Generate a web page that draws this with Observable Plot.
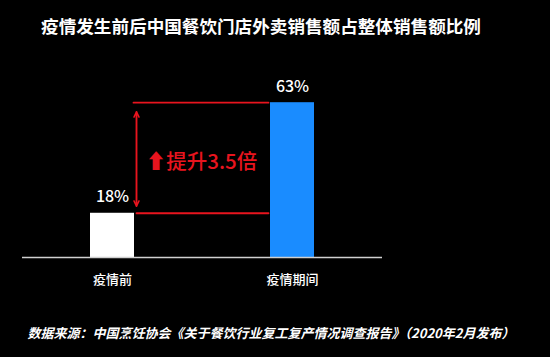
<!DOCTYPE html>
<html>
<head>
<meta charset="utf-8">
<script src="https://cdn.jsdelivr.net/npm/d3@7"></script>
<script src="https://cdn.jsdelivr.net/npm/@observablehq/plot@0.6"></script>
<style>
  html, body { margin: 0; padding: 0; background: #000; }
  body { width: 550px; height: 357px; overflow: hidden; font-family: "Noto Sans CJK SC", "Noto Sans", sans-serif; color: #fff; }
  #title { width: 522px; height: 45px; line-height: 52px; text-align: center; font-size: 17.6px; font-weight: bold; white-space: nowrap; }
  #chart { height: 255px; }
  #caption { width: 542px; height: 57px; line-height: 66px; text-align: center; font-size: 13px; font-weight: bold; font-style: italic; white-space: nowrap; }
</style>
</head>
<body>
<div id="title"></div>
<div id="chart"></div>
<div id="caption"></div>
<script>
const titleText = "疫情发生前后中国餐饮门店外卖销售额占整体销售额比例";
const captionText = "数据来源：中国烹饪协会《关于餐饮行业复工复产情况调查报告》（2020年2月发布）";
const categories = ["疫情前", "疫情期间"];
const shares = [18, 63];
const valueLabels = ["18%", "63%"];
const barColors = ["#ffffff", "#1a8cff"];
const annotationText = "⬆提升3.5倍";

document.getElementById("title").textContent = titleText;
document.getElementById("caption").textContent = captionText;

const data = categories.map((c, i) => ({cat: c, value: shares[i], color: barColors[i], label: valueLabels[i]}));
const red = "#e8141e";
const before = categories[0], after = categories[1];
const lowV = shares[0], highV = shares[1];

const chart = Plot.plot({
  width: 550,
  height: 255,
  marginLeft: 22,
  marginRight: 168,
  marginTop: 40,
  marginBottom: 43,
  style: {background: "#000", color: "#fff", fontFamily: "\"Noto Sans CJK SC\", sans-serif", overflow: "visible"},
  x: {domain: categories, paddingInner: 0.756, paddingOuter: 0.378, label: null},
  y: {domain: [0, 70], axis: null},
  color: {type: "identity"},
  marks: [
    Plot.barY(data, {x: "cat", y: "value", fill: "color"}),
    Plot.ruleY([0], {stroke: "#d0d0d0", strokeWidth: 1.5}),
    Plot.text(data, {x: "cat", y: "value", text: "label", dy: -16, fill: "#fff", fontSize: 16, fontWeight: 500, lineAnchor: "middle"}),
    Plot.arrow([0], {x1: () => before, x2: () => after, y1: () => highV, y2: () => highV, stroke: red, strokeWidth: 1.8, headLength: 0, insetStart: 21, insetEnd: 24}),
    Plot.arrow([0], {x1: () => before, x2: () => after, y1: () => lowV, y2: () => lowV, stroke: red, strokeWidth: 1.8, headLength: 0, insetStart: 24, insetEnd: 24}),
    Plot.arrow([0], {x1: () => before, x2: () => before, y1: () => lowV, y2: () => highV, dx: 24, stroke: red, strokeWidth: 1.5, headLength: 6, headAngle: 50, insetStart: 7, insetEnd: 9}),
    Plot.arrow([0], {x1: () => before, x2: () => before, y1: () => highV, y2: () => lowV, dx: 24, stroke: red, strokeWidth: 1.5, headLength: 6, headAngle: 50, insetStart: 9, insetEnd: 7}),
    Plot.text([annotationText], {x: () => before, y: () => (lowV + highV) / 2, text: d => d, dx: 89, dy: 4, fill: red, fontSize: 20.5, fontWeight: 500, lineAnchor: "middle"}),
    Plot.axisX({tickSize: 0, tickPadding: 17, fontSize: 13, fontWeight: 500, fill: "#fff"})
  ]
});
document.getElementById("chart").appendChild(chart);
</script>
</body>
</html>
